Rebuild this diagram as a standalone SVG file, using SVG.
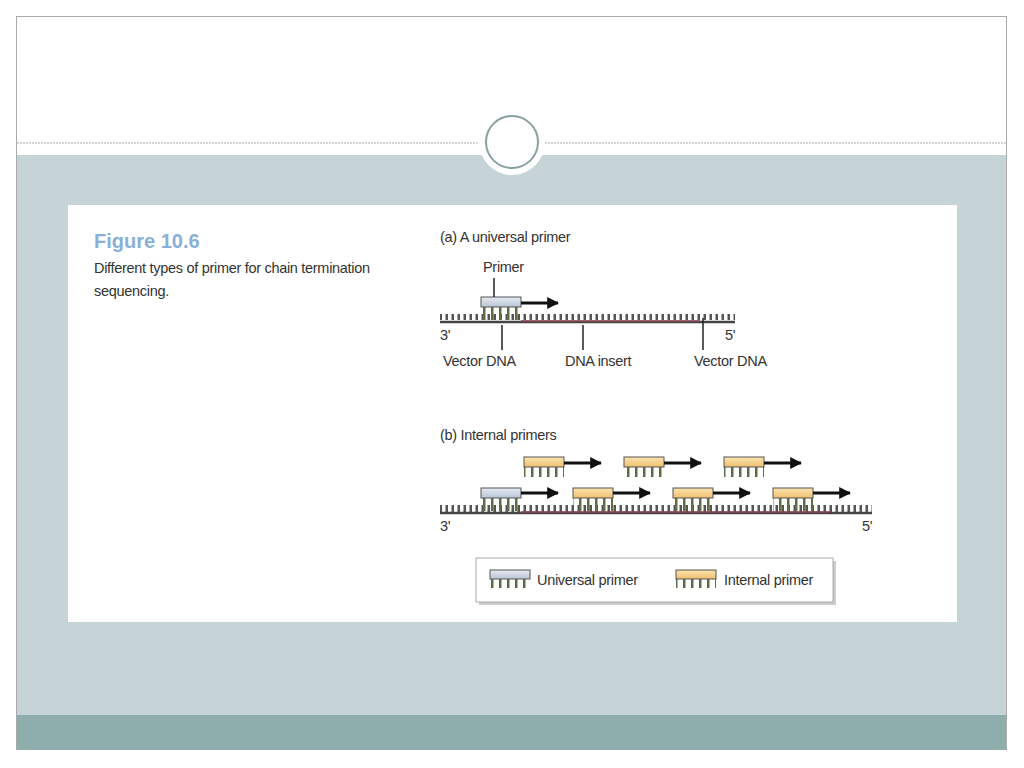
<svg xmlns="http://www.w3.org/2000/svg" width="1024" height="768" viewBox="0 0 1024 768">
<defs>
<pattern id="ticks" x="0" y="0" width="6" height="8" patternUnits="userSpaceOnUse"><rect x="1.5" y="1" width="2.5" height="7" fill="#555"/></pattern>
<pattern id="teeth" x="0" y="0" width="8" height="10" patternUnits="userSpaceOnUse"><rect x="3" y="0" width="2.5" height="10" fill="#5d6e40"/></pattern>
<marker id="ah" viewBox="0 0 10 10" refX="9" refY="5" markerWidth="4" markerHeight="4" orient="auto"><path d="M0,0L10,5L0,10z" fill="#111"/></marker>
<linearGradient id="gu" x1="0" y1="0" x2="0" y2="1"><stop offset="0" stop-color="#e4eaf2"/><stop offset="1" stop-color="#b9c6d6"/></linearGradient>
<linearGradient id="gi" x1="0" y1="0" x2="0" y2="1"><stop offset="0" stop-color="#fbe4b0"/><stop offset="1" stop-color="#f0c070"/></linearGradient>
</defs>
<style>
text{font-family:"Liberation Sans",Arial,sans-serif;fill:#333;font-size:14.5px;letter-spacing:-0.3px}
.arr{stroke:#111;stroke-width:3;marker-end:url(#ah);fill:none}
.ln{stroke:#222;stroke-width:1.5}
.pu{fill:url(#gu);stroke:#555;stroke-width:1}
.pi{fill:url(#gi);stroke:#555;stroke-width:1}
</style>
<rect width="1024" height="768" fill="#fff"/>
<rect x="16.5" y="16.5" width="990" height="733" fill="#fff" stroke="#aaa"/>
<rect x="17" y="155" width="989" height="560" fill="#c6d4d7"/>
<rect x="17" y="715" width="989" height="35" fill="#8eaeae"/>
<line x1="17" y1="143" x2="1006" y2="143" stroke="#aaa" stroke-dasharray="2,1"/>
<circle cx="512" cy="142" r="33" fill="#fff"/>
<circle cx="512" cy="142" r="26" fill="#fff" stroke="#8aa0a0" stroke-width="2"/>
<rect x="68" y="205" width="889" height="417" fill="#fff"/>
<text x="94" y="248" style="font-size:20px;font-weight:bold;fill:#8ab0d8;letter-spacing:0">Figure 10.6</text>
<text x="94" y="273">Different types of primer for chain termination</text>
<text x="94" y="296">sequencing.</text>
<g id="partA">
<text x="440" y="242">(a)  A universal primer</text>
<text x="483" y="272">Primer</text>
<rect x="440" y="314" width="295" height="8" fill="url(#ticks)"/>
<line x1="440" y1="322" x2="735" y2="322" stroke="#444" stroke-width="2.5"/>
<line x1="521" y1="321" x2="700" y2="321" stroke="#8a4050" stroke-width="1.5"/>
<rect x="481" y="307" width="40" height="13" fill="url(#teeth)"/>
<rect x="481" y="297" width="40" height="10" class="pu"/>
<line x1="494" y1="278" x2="494" y2="297" class="ln"/>
<line x1="521" y1="303" x2="558" y2="303" class="arr"/>
<line x1="502" y1="325" x2="502" y2="350" class="ln"/>
<line x1="583" y1="325" x2="583" y2="350" class="ln"/>
<line x1="703" y1="318" x2="703" y2="350" class="ln"/>
<text x="440" y="340">3'</text><text x="725" y="340">5'</text>
<text x="443" y="366">Vector DNA</text>
<text x="565" y="366">DNA insert</text>
<text x="694" y="366">Vector DNA</text>
</g>
<g id="partB">
<text x="440" y="440">(b)  Internal primers</text>
<rect x="440" y="505" width="432" height="8" fill="url(#ticks)"/>
<line x1="440" y1="513" x2="872" y2="513" stroke="#444" stroke-width="2.5"/>
<line x1="521" y1="512" x2="830" y2="512" stroke="#8a4050" stroke-width="1.5"/>
<rect x="481" y="498" width="40" height="13" fill="url(#teeth)"/>
<rect x="481" y="488" width="40" height="10" class="pu"/>
<line x1="521" y1="493" x2="558" y2="493" class="arr"/>
<rect x="573" y="498" width="40" height="13" fill="url(#teeth)"/>
<rect x="573" y="488" width="40" height="10" class="pi"/>
<line x1="613" y1="493" x2="650" y2="493" class="arr"/>
<rect x="673" y="498" width="40" height="13" fill="url(#teeth)"/>
<rect x="673" y="488" width="40" height="10" class="pi"/>
<line x1="713" y1="493" x2="750" y2="493" class="arr"/>
<rect x="773" y="498" width="40" height="13" fill="url(#teeth)"/>
<rect x="773" y="488" width="40" height="10" class="pi"/>
<line x1="813" y1="493" x2="850" y2="493" class="arr"/>
<rect x="524" y="467" width="40" height="10" fill="url(#teeth)"/>
<rect x="524" y="457" width="40" height="10" class="pi"/>
<line x1="564" y1="463" x2="601" y2="463" class="arr"/>
<rect x="624" y="467" width="40" height="10" fill="url(#teeth)"/>
<rect x="624" y="457" width="40" height="10" class="pi"/>
<line x1="664" y1="463" x2="701" y2="463" class="arr"/>
<rect x="724" y="467" width="40" height="10" fill="url(#teeth)"/>
<rect x="724" y="457" width="40" height="10" class="pi"/>
<line x1="764" y1="463" x2="801" y2="463" class="arr"/>
<text x="440" y="531">3'</text><text x="862" y="531">5'</text>
</g>
<g id="legend">
<rect x="479" y="561" width="357" height="44" fill="#ccc"/>
<rect x="476" y="558" width="357" height="44" fill="#fff" stroke="#aaa"/>
<rect x="490" y="579" width="40" height="9" fill="url(#teeth)"/>
<rect x="490" y="570" width="40" height="9" class="pu"/>
<text x="537" y="585">Universal primer</text>
<rect x="676" y="579" width="40" height="9" fill="url(#teeth)"/>
<rect x="676" y="570" width="40" height="9" class="pi"/>
<text x="724" y="585">Internal primer</text>
</g>
</svg>
